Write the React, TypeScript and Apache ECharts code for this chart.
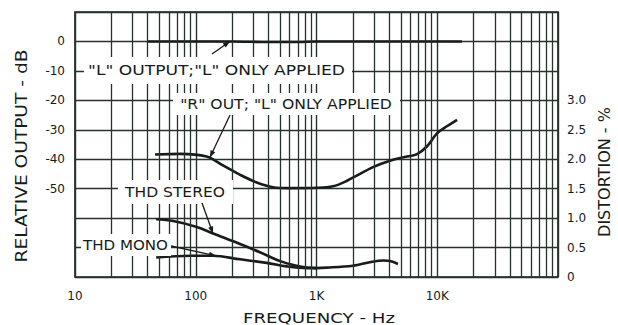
import React, { useEffect, useRef } from "react";
import * as echarts from "echarts";

// ---- axis ticks ----
const xTickValues = [10, 100, 1000, 10000];
const xTickLabels = ["10", "100", "1K", "10K"];
const dbTickValues = [0, -10, -20, -30, -40, -50];
const dbTickLabels = ["0", "-10", "-20", "-30", "-40", "-50"];
const pctTickValues = [0, 0.5, 1, 1.5, 2, 2.5, 3];
const pctTickLabels = ["0", "0.5", "1.0", "1.5", "2.0", "2.5", "3.0"];

// ---- data (frequency in Hz) ----
const lOutFreq = [40, 70, 120, 200, 400, 700, 1000, 2000, 4000, 8000, 16000];
const lOutDb = [0, 0, 0, 0, -0.2, -0.2, 0, 0, 0, 0, 0];

const rOutFreq = [46, 74, 123, 168, 233, 320, 436, 603, 1010, 1370, 1790, 2940, 4060, 5620, 6800, 8230, 9950, 12000, 14600];
const rOutDb = [-38.4, -38.2, -39.1, -42.1, -45.3, -47.9, -49.5, -49.8, -49.7, -49.2, -47.3, -42.7, -40.5, -39.1, -38.3, -35.6, -31.2, -28.8, -26.6];

const thdStereoFreq = [47, 65, 102, 139, 233, 340, 500, 685, 830, 1000];
const thdStereoPct = [0.98, 0.95, 0.85, 0.74, 0.56, 0.42, 0.27, 0.19, 0.16, 0.15];

const thdMonoFreq = [47, 90, 139, 233, 387, 566, 830, 1215, 2000, 2900, 3600, 4060, 4730];
const thdMonoPct = [0.33, 0.36, 0.36, 0.3, 0.24, 0.18, 0.15, 0.16, 0.19, 0.26, 0.28, 0.27, 0.22];

// minor (2..9) log grid multipliers and decades
const minorMultipliers = [2, 3, 4, 5, 6, 7, 8, 9];
const decades = [10, 100, 1000, 10000];

export default function App() {
  const ref = useRef<HTMLDivElement>(null);
  useEffect(() => {
    const el = ref.current!;
    const chart = echarts.init(el, null, { renderer: "svg" });
    const fam = '"DejaVu Sans", sans-serif';
    const ink = "#161c18";
    const gridInk = "#26322b";
    const zip = (xs: number[], ys: number[]) => xs.map((x, i) => [x, ys[i]]);
    const curve = (name: string, xs: number[], ys: number[], yAxisIndex: number) => ({
      type: "line",
      name,
      data: zip(xs, ys),
      yAxisIndex,
      smooth: 0.35,
      showSymbol: false,
      symbol: "none",
      silent: true,
      z: 3,
      lineStyle: { color: ink, width: 2.6 },
    });
    const minorFreqs: number[] = [];
    decades.forEach((d) => minorMultipliers.forEach((m) => minorFreqs.push(d * m)));

    chart.setOption({
      animation: false,
      grid: { left: 75, right: 60, top: 12, bottom: 48, show: true, borderColor: "#161c18", borderWidth: 1.6, backgroundColor: "transparent" },
      xAxis: {
        type: "log",
        logBase: 10,
        min: 10,
        max: 100000,
        axisLine: { show: false },
        axisTick: { show: false },
        splitLine: { show: true, lineStyle: { color: gridInk, width: 1.4 } },
        axisLabel: {
          margin: 13,
          fontFamily: fam,
          fontSize: 12,
          color: ink,
          formatter: (v: number) => {
            const i = xTickValues.findIndex((t) => Math.abs(t - v) < 1e-6 * t);
            return i >= 0 ? xTickLabels[i] : "";
          },
        },
      },
      yAxis: [
        {
          type: "value",
          min: -80,
          max: 10,
          interval: 10,
          axisLine: { show: false },
          axisTick: { show: false },
          splitLine: { show: true, lineStyle: { color: gridInk, width: 1.4 } },
          axisLabel: {
            margin: 10,
            fontFamily: fam,
            fontSize: 12,
            color: ink,
            formatter: (v: number) => {
              const i = dbTickValues.findIndex((t) => Math.abs(t - v) < 1e-6);
              return i >= 0 ? dbTickLabels[i] : "";
            },
          },
        },
        {
          type: "value",
          position: "right",
          min: 0,
          max: 4.5,
          interval: 0.5,
          axisLine: { show: false },
          axisTick: { show: false },
          splitLine: { show: false },
          axisLabel: {
            margin: 9,
            fontFamily: fam,
            fontSize: 12,
            color: ink,
            formatter: (v: number) => {
              const i = pctTickValues.findIndex((t) => Math.abs(t - v) < 1e-6);
              return i >= 0 ? pctTickLabels[i] : "";
            },
          },
        },
      ],
      series: [
        {
          type: "line",
          name: "minor grid",
          data: [],
          z: 1,
          silent: true,
          markLine: {
            silent: true,
            symbol: "none",
            label: { show: false },
            animation: false,
            lineStyle: { color: gridInk, width: 1.3, type: "solid" },
            emphasis: { disabled: true },
            data: minorFreqs.map((f) => ({ xAxis: f })),
          },
        },
        curve('"L" OUTPUT', lOutFreq, lOutDb, 0),
        curve('"R" OUT', rOutFreq, rOutDb, 0),
        curve("THD STEREO", thdStereoFreq, thdStereoPct, 1),
        curve("THD MONO", thdMonoFreq, thdMonoPct, 1),
      ],
    });

    // ---- annotations ----
    const cvs = document.createElement("canvas").getContext("2d")!;
    const measure = (t: string, size: number) => {
      cvs.font = `${size}px "DejaVu Sans"`;
      return cvs.measureText(t).width;
    };
    const gfx: any[] = [];
    const textEl = (text: string, cx: number, cy: number, width: number, size: number, rotation = 0) => {
      const s = width / measure(text, size);
      gfx.push({
        type: "text",
        x: cx,
        y: cy,
        rotation,
        scaleX: s,
        z: 8,
        silent: true,
        style: { text, fontFamily: fam, fontSize: size, fill: ink, align: "center", verticalAlign: "middle" },
      });
    };
    const box = (x0: number, y0: number, x1: number, y1: number) =>
      gfx.push({ type: "rect", z: 6, silent: true, shape: { x: x0, y: y0, width: x1 - x0, height: y1 - y0 }, style: { fill: "#ffffff" } });

    const labels = [
      { text: '"L" OUTPUT;"L" ONLY APPLIED', l: 88, r: 345, cy: 71, b: [84, 57, 352, 84] },
      { text: '"R" OUT; "L" ONLY APPLIED', l: 180, r: 392, cy: 104, b: [173, 93, 400, 115] },
      { text: "THD STEREO", l: 125, r: 225, cy: 192, b: [118, 180, 233, 204] },
      { text: "THD MONO", l: 83, r: 168, cy: 245, b: [81, 234, 171, 256] },
    ];
    labels.forEach((o) => {
      box(o.b[0], o.b[1], o.b[2], o.b[3]);
      textEl(o.text, (o.l + o.r) / 2, o.cy, o.r - o.l, 14);
    });

    const leaders = [
      { from: [212, 54], to: [192, 0], y: 0 },
      { from: [230, 115], to: [131, -39.4], y: 0 },
      { from: [202, 203], to: [139, 0.74], y: 1 },
      { from: [171, 246], to: [147, 0.36], y: 1 },
    ];
    leaders.forEach((a) => {
      const p = chart.convertToPixel({ xAxisIndex: 0, yAxisIndex: a.y }, a.to) as number[];
      const [x0, y0] = a.from;
      const [x1, y1] = p;
      gfx.push({ type: "line", z: 8, silent: true, shape: { x1: x0, y1: y0, x2: x1, y2: y1 }, style: { stroke: ink, lineWidth: 1.3 } });
      const dx = x1 - x0, dy = y1 - y0;
      const len = Math.hypot(dx, dy);
      const ux = dx / len, uy = dy / len;
      const hl = 7, hw = 2.6;
      const bx = x1 - ux * hl, by = y1 - uy * hl;
      gfx.push({
        type: "polygon",
        z: 8,
        silent: true,
        shape: { points: [[x1, y1], [bx - uy * hw, by + ux * hw], [bx + uy * hw, by - ux * hw]] },
        style: { fill: ink },
      });
    });

    textEl("FREQUENCY - Hz", 319, 318, 152, 14);
    textEl("RELATIVE OUTPUT - dB", 22, 156, 213, 15, Math.PI / 2);
    textEl("DISTORTION - %", 605, 172, 130, 15, Math.PI / 2);

    chart.setOption({ graphic: gfx });
    return () => chart.dispose();
  }, []);
  return <div ref={ref} style={{ position: "fixed", left: 0, top: 0, width: 618, height: 325, background: "#fff" }} />;
}
